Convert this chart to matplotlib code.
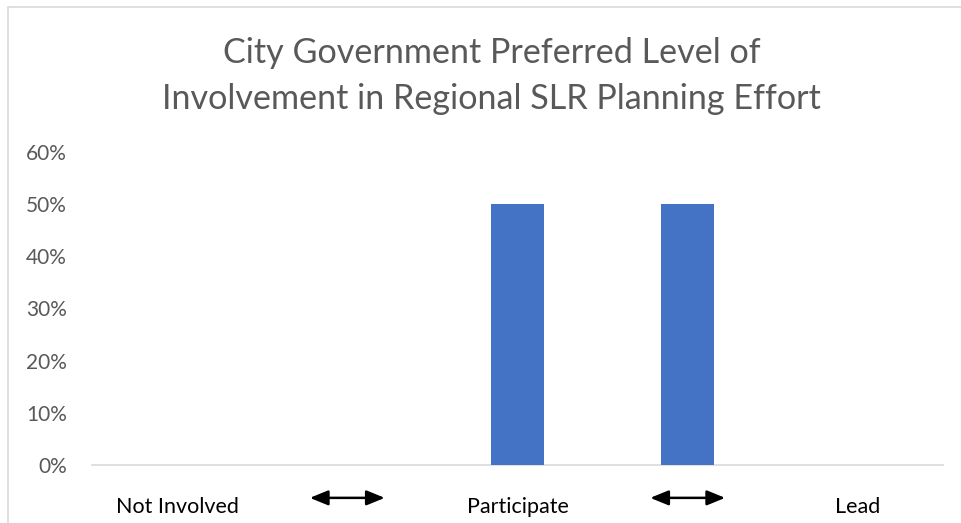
import matplotlib
matplotlib.use("Agg")
from matplotlib import pyplot
from matplotlib.patches import Rectangle
from matplotlib.ticker import PercentFormatter
import numpy as np

# data
categories = ["Not Involved", "↔", "Participate", "↔", "Lead"]
shares = [0.0, 0.0, 0.50, 0.50, 0.0]
yticks = [0.0, 0.1, 0.2, 0.3, 0.4, 0.5, 0.6]
title = "City Government Preferred Level of\nInvolvement in Regional SLR Planning Effort"

pyplot.rcParams['font.family'] = ['Lato', 'DejaVu Sans']

W, H = 961, 523
fig = pyplot.figure(figsize=(W / 100, H / 100), dpi=100)
ax = fig.add_axes([92 / W, 1 - 465 / H, (943 - 92) / W, (465 - 152) / H])

x = np.arange(len(categories))
ax.bar(x, shares, width=0.31, color="#4472C4", zorder=3)

ax.set_xlim(-0.5, len(categories) - 0.5)
ax.set_ylim(0, 0.6)
ax.set_yticks(yticks)
ax.yaxis.set_major_formatter(PercentFormatter(1.0, decimals=0))
ax.tick_params(axis="y", length=0, pad=18, labelsize=15, labelcolor="#595959")

# category labels: arrows are drawn as graphics, others as text
ax.set_xticks(x)
ax.set_xticklabels([c if c != "↔" else "" for c in categories])
ax.tick_params(axis="x", length=0, pad=23, labelsize=15.5, labelcolor="#000000")
for i, c in enumerate(categories):
    if c == "↔":
        ax.annotate("", xy=(i + 0.22, -0.105), xytext=(i - 0.22, -0.105),
                    xycoords=("data", "axes fraction"),
                    textcoords=("data", "axes fraction"),
                    arrowprops=dict(arrowstyle="<|-|>,head_length=1.1,head_width=0.45",
                                    color="black", lw=1.8, shrinkA=0, shrinkB=0),
                    annotation_clip=False)

for side in ["top", "right", "left"]:
    ax.spines[side].set_visible(False)
ax.spines["bottom"].set_color("#D9D9D9")
ax.spines["bottom"].set_linewidth(1.2)

fig.text(0.5 + 11 / W, 1 - 76 / H, title, ha="center", va="center", fontsize=24.6,
         color="#595959", linespacing=1.55)

# chart frame
fig.patches.append(Rectangle((8 / W, -0.1), 1.2, 1 - 7 / H + 0.1,
                             transform=fig.transFigure, fill=False,
                             edgecolor="#D9D9D9", lw=1.2))

fig.savefig("out.png", dpi=100)
